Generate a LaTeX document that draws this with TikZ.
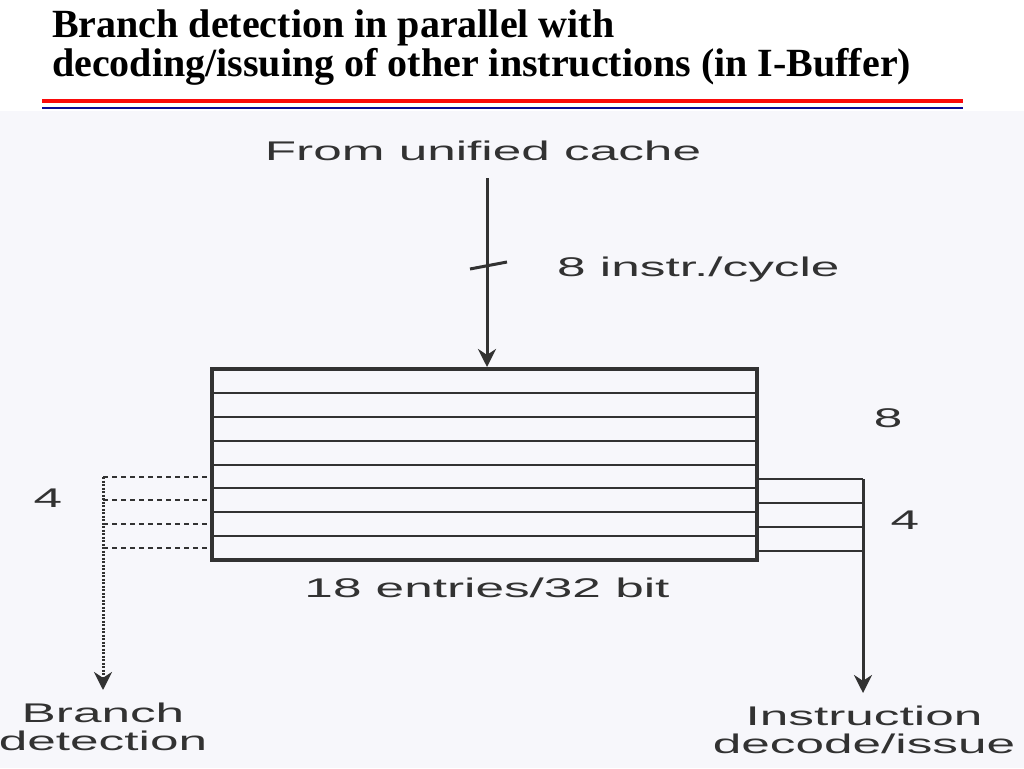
\documentclass[tikz,border=0pt]{standalone}
\usepackage{fontspec}
\setmainfont{Liberation Serif}
\setsansfont{Liberation Sans}
\usepackage{graphicx}
\usetikzlibrary{scopes,arrows.meta,positioning}

\definecolor{ink}{RGB}{50,50,50}
\definecolor{paper}{RGB}{247,247,251}
\definecolor{rulered}{RGB}{250,10,10}
\definecolor{ruleblue}{RGB}{10,10,150}
\newcommand{\widetxt}[1]{\scalebox{1.9}[1]{#1}}

\begin{document}
\begin{tikzpicture}[x=1pt,y=-1pt,
    title/.style={font=\fontsize{40}{39}\selectfont\bfseries,align=left,inner sep=0pt},
    lbl/.style={font=\fontsize{27}{28}\selectfont\sffamily,text=ink,inner sep=0pt,align=center},
    wire/.style={draw=ink,line width=3pt},
    flow/.style={wire,-{Stealth[length=18pt,width=18pt]}},
    buffer/.style={rectangle,draw=ink,line width=4pt,minimum width=545pt,minimum height=191pt,inner sep=0pt},
    row/.style={draw=ink,line width=2pt},
    tap/.style={draw=ink,line width=2pt,dash pattern=on 5pt off 4pt},
    tapdown/.style={draw=ink,line width=3pt,dash pattern=on 2pt off 1.5pt,-{Stealth[length=18pt,width=18pt]}},
]
    \useasboundingbox (0,0) rectangle (1024,768);
    \fill[paper] (0,111) rectangle (1024,768);

    %%%
    % Title and rules
    \node[title,anchor=north west] (head) at (52,10)
        {Branch detection in parallel with\\decoding/issuing of other instructions (in I-Buffer)};
    \draw[rulered,line width=4pt] (42,101) -- (963,101);
    \draw[ruleblue,line width=2.5pt] (42,108) -- (963,108);

    %%%
    % I-Buffer
    \node[buffer] (buf) at (484.5,464.5) {};
    \foreach \k in {1,...,7}
        \draw[row] (212,{369+23.875*\k}) -- (757,{369+23.875*\k});
    \node[lbl,anchor=base] (size) at (487,597) {\widetxt{18 entries/32 bit}};

    %%%
    % Input from cache
    \node[lbl,anchor=base] (cache) at (483,160) {\widetxt{From unified cache}};
    \coordinate (cacheOut) at (487,178);
    \draw[flow] (cacheOut) -- (cacheOut |- buf.north);
    \draw[wire] (470,269) -- (507,262);
    \node[lbl,anchor=base west] (rate) at (557,276) {\widetxt{8 instr./cycle}};

    %%%
    % Decode/issue side
    \foreach \y in {479,503,527,551}
        \draw[row] (757,\y) -- (863,\y);
    \node[lbl,anchor=base] (eight) at (888,427) {\widetxt{8}};
    \node[lbl,anchor=base] (fourR) at (905,529) {\widetxt{4}};
    \node[lbl,anchor=north] (issue) at (864,706) {\widetxt{Instruction}\\\widetxt{decode/issue}};
    \coordinate (issueIn) at (863,479);
    {[flow]
        \draw (issueIn) -- (issueIn |- issue.north) [shorten >=13pt];
    }

    %%%
    % Branch detection side
    \foreach \y in {477,500,524,548}
        \draw[tap] (103,\y) -- (210,\y);
    \node[lbl,anchor=base] (fourL) at (48,507) {\widetxt{4}};
    \node[lbl,anchor=north] (branch) at (103,703) {\widetxt{Branch}\\\widetxt{detection}};
    \coordinate (branchIn) at (103,477);
    \draw[tapdown,shorten >=13pt] (branchIn) -- (branchIn |- branch.north);

\end{tikzpicture}
\end{document}
